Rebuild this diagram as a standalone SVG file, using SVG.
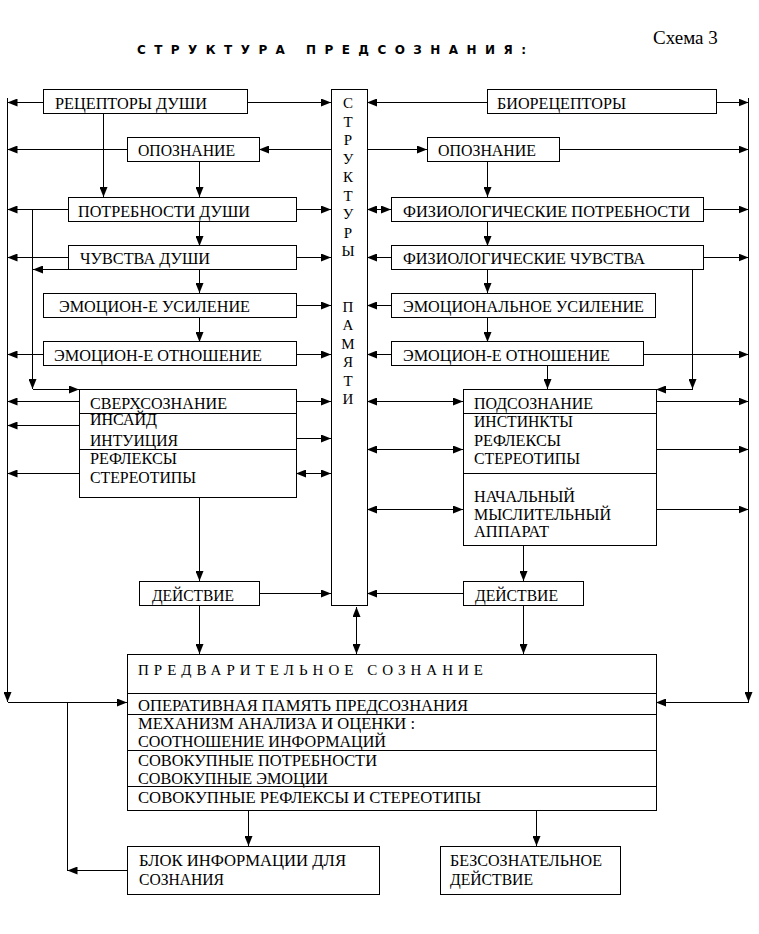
<svg xmlns="http://www.w3.org/2000/svg" width="759" height="934" viewBox="0 0 759 934">
<style>
rect{fill:#fff;stroke:#000;stroke-width:1;shape-rendering:crispEdges}
.d{stroke:#000;stroke-width:1;shape-rendering:crispEdges}
.c path{fill:none;stroke:#000;stroke-width:1;shape-rendering:crispEdges}
.a{marker-end:url(#ah)}
.b{marker-start:url(#ah);marker-end:url(#ah)}
</style>
<defs>
<marker id="ah" markerUnits="userSpaceOnUse" markerWidth="10" markerHeight="8" refX="10" refY="4" orient="auto-start-reverse" viewBox="0 0 10 8">
<path d="M0,0 L10,4 L0,8 z" fill="#000"/>
</marker>
</defs>
<rect x="0" y="0" width="759" height="934" style="stroke:none"/>
<text x="137" y="54" font-family="DejaVu Sans, Liberation Sans, Arial, sans-serif" font-size="12" font-weight="bold" textLength="389" lengthAdjust="spacing">СТРУКТУРА ПРЕДСОЗНАНИЯ:</text>
<text x="653" y="44" font-family="Liberation Serif, Times New Roman, serif" font-size="19">Схема 3</text>

<g class="c" id="connectors">
<path class="a" d="M7.5,98 V702"/>
<path class="a" d="M7.5,702.5 H127"/>
<path class="a" d="M748.5,98 V702"/>
<path class="a" d="M748.5,702.5 H656"/>
<path class="a" d="M43,102.5 H7.5"/>
<path class="a" d="M127,149.5 H7.5"/>
<path class="a" d="M68,209.5 H7.5"/>
<path class="a" d="M68,257.5 H7.5"/>
<path class="a" d="M43,354.5 H7.5"/>
<path class="a" d="M79,401.5 H7.5"/>
<path class="a" d="M79,425.5 H7.5"/>
<path class="a" d="M79,473.5 H7.5"/>
<path class="a" d="M247,102.5 H331"/>
<path class="a" d="M331,149.5 H259"/>
<path class="a" d="M296,209.5 H331"/>
<path class="a" d="M296,257.5 H331"/>
<path class="a" d="M296,305.5 H331"/>
<path class="a" d="M296,354.5 H331"/>
<path class="a" d="M296,401.5 H331"/>
<path class="a" d="M296,438.5 H331"/>
<path class="b" d="M296,473.5 H331"/>
<path class="a" d="M259,593.5 H331"/>
<path class="a" d="M487,102.5 H367"/>
<path class="a" d="M367,149.5 H427"/>
<path class="b" d="M367,209.5 H391"/>
<path class="a" d="M391,257.5 H367"/>
<path class="a" d="M391,305.5 H367"/>
<path class="a" d="M391,354.5 H367"/>
<path class="b" d="M367,401.5 H463"/>
<path class="b" d="M367,449.5 H463"/>
<path class="b" d="M367,509.5 H463"/>
<path class="a" d="M463,593.5 H367"/>
<path class="a" d="M716,102.5 H748.5"/>
<path class="a" d="M559,149.5 H748.5"/>
<path class="a" d="M703,209.5 H748.5"/>
<path class="a" d="M703,257.5 H748.5"/>
<path class="a" d="M643,354.5 H748.5"/>
<path class="a" d="M656,401.5 H748.5"/>
<path class="a" d="M656,449.5 H748.5"/>
<path class="a" d="M656,509.5 H748.5"/>
<path class="a" d="M103.5,113 V197"/>
<path class="a" d="M199.5,161 V197"/>
<path class="a" d="M199.5,221 V246"/>
<path class="a" d="M199.5,270 V293"/>
<path class="a" d="M199.5,317 V342"/>
<path class="a" d="M32.5,209.5 V389"/>
<path class="a" d="M32.5,389.5 H79"/>
<path class="a" d="M68,269.5 H33"/>
<path class="a" d="M199.5,497 V581"/>
<path class="a" d="M199.5,605 V654"/>
<path class="b" d="M356.5,607 V654"/>
<path class="a" d="M487.5,161 V197"/>
<path class="a" d="M487.5,221 V246"/>
<path class="a" d="M487.5,270 V293"/>
<path class="a" d="M487.5,317 V342"/>
<path class="a" d="M547.5,366 V389"/>
<path class="a" d="M692.5,270 V389"/>
<path class="a" d="M692.5,389.5 H656"/>
<path class="a" d="M523.5,545 V581"/>
<path class="a" d="M523.5,605 V654"/>
<path class="a" d="M248.5,810 V846"/>
<path class="a" d="M536.5,810 V846"/>
<path d="M67.5,702.5 V870.5"/>
<path class="a" d="M127,870.5 H67.5"/>
</g>

<g font-family="Liberation Serif, Times New Roman, serif" font-size="16" fill="#000">
<g id="column" font-size="15" text-anchor="middle">
<rect x="331.5" y="89.5" width="36" height="516"/>
<text x="348" y="108">С</text>
<text x="348" y="126.5">Т</text>
<text x="348" y="145">Р</text>
<text x="348" y="163.5">У</text>
<text x="348" y="182">К</text>
<text x="348" y="200.5">Т</text>
<text x="348" y="219">У</text>
<text x="348" y="237.5">Р</text>
<text x="348" y="256">Ы</text>
<text x="348" y="311.5">П</text>
<text x="348" y="330">А</text>
<text x="348" y="348.5">М</text>
<text x="348" y="367">Я</text>
<text x="348" y="385.5">Т</text>
<text x="348" y="404">И</text>
</g>

<g id="receptors-soul"><rect x="43.5" y="89.5" width="204" height="24"/><text x="55" y="109" textLength="152" lengthAdjust="spacingAndGlyphs">РЕЦЕПТОРЫ ДУШИ</text></g>
<g id="recognition-left"><rect x="127.5" y="137.5" width="132" height="24"/><text x="138" y="156" textLength="97" lengthAdjust="spacingAndGlyphs">ОПОЗНАНИЕ</text></g>
<g id="needs-soul"><rect x="68.5" y="197.5" width="228" height="24"/><text x="78" y="217" textLength="172" lengthAdjust="spacingAndGlyphs">ПОТРЕБНОСТИ ДУШИ</text></g>
<g id="feelings-soul"><rect x="68.5" y="245.5" width="228" height="24"/><text x="80" y="264" textLength="130" lengthAdjust="spacingAndGlyphs">ЧУВСТВА ДУШИ</text></g>
<g id="emo-gain-left"><rect x="43.5" y="293.5" width="253" height="24"/><text x="59" y="312" textLength="191" lengthAdjust="spacingAndGlyphs">ЭМОЦИОН-Е УСИЛЕНИЕ</text></g>
<g id="emo-attitude-left"><rect x="43.5" y="341.5" width="253" height="24"/><text x="54" y="361" textLength="208" lengthAdjust="spacingAndGlyphs">ЭМОЦИОН-Е ОТНОШЕНИЕ</text></g>
<g id="superconscious">
<rect x="79.5" y="389.5" width="217" height="108"/>
<line class="d" x1="79.5" y1="413.5" x2="296.5" y2="413.5"/>
<line class="d" x1="79.5" y1="449.5" x2="296.5" y2="449.5"/>
<text x="90" y="409" textLength="137" lengthAdjust="spacingAndGlyphs">СВЕРХСОЗНАНИЕ</text>
<text x="90" y="425" textLength="67" lengthAdjust="spacingAndGlyphs">ИНСАЙД</text>
<text x="90" y="446" textLength="88" lengthAdjust="spacingAndGlyphs">ИНТУИЦИЯ</text>
<text x="90" y="464" textLength="87" lengthAdjust="spacingAndGlyphs">РЕФЛЕКСЫ</text>
<text x="90" y="483" textLength="106" lengthAdjust="spacingAndGlyphs">СТЕРЕОТИПЫ</text>
</g>
<g id="action-left"><rect x="139.5" y="581.5" width="120" height="24"/><text x="152" y="601" textLength="82" lengthAdjust="spacingAndGlyphs">ДЕЙСТВИЕ</text></g>

<g id="bioreceptors"><rect x="487.5" y="89.5" width="229" height="24"/><text x="497" y="109" textLength="129" lengthAdjust="spacingAndGlyphs">БИОРЕЦЕПТОРЫ</text></g>
<g id="recognition-right"><rect x="427.5" y="137.5" width="132" height="24"/><text x="438" y="156" textLength="98" lengthAdjust="spacingAndGlyphs">ОПОЗНАНИЕ</text></g>
<g id="phys-needs"><rect x="391.5" y="197.5" width="312" height="24"/><text x="403" y="217" textLength="287" lengthAdjust="spacingAndGlyphs">ФИЗИОЛОГИЧЕСКИЕ ПОТРЕБНОСТИ</text></g>
<g id="phys-feelings"><rect x="391.5" y="245.5" width="312" height="24"/><text x="403" y="264" textLength="242" lengthAdjust="spacingAndGlyphs">ФИЗИОЛОГИЧЕСКИЕ ЧУВСТВА</text></g>
<g id="emo-gain-right"><rect x="391.5" y="293.5" width="264" height="24"/><text x="403" y="312" textLength="241" lengthAdjust="spacingAndGlyphs">ЭМОЦИОНАЛЬНОЕ УСИЛЕНИЕ</text></g>
<g id="emo-attitude-right"><rect x="391.5" y="341.5" width="252" height="24"/><text x="403" y="361" textLength="207" lengthAdjust="spacingAndGlyphs">ЭМОЦИОН-Е ОТНОШЕНИЕ</text></g>
<g id="subconscious">
<rect x="463.5" y="389.5" width="193" height="156"/>
<line class="d" x1="463.5" y1="413.5" x2="656.5" y2="413.5"/>
<line class="d" x1="463.5" y1="473.5" x2="656.5" y2="473.5"/>
<text x="474" y="409" textLength="119" lengthAdjust="spacingAndGlyphs">ПОДСОЗНАНИЕ</text>
<text x="474" y="427" textLength="99" lengthAdjust="spacingAndGlyphs">ИНСТИНКТЫ</text>
<text x="474" y="446" textLength="87" lengthAdjust="spacingAndGlyphs">РЕФЛЕКСЫ</text>
<text x="474" y="464" textLength="106" lengthAdjust="spacingAndGlyphs">СТЕРЕОТИПЫ</text>
<text x="474" y="502" textLength="101" lengthAdjust="spacingAndGlyphs">НАЧАЛЬНЫЙ</text>
<text x="474" y="520" textLength="137" lengthAdjust="spacingAndGlyphs">МЫСЛИТЕЛЬНЫЙ</text>
<text x="474" y="537" textLength="75" lengthAdjust="spacingAndGlyphs">АППАРАТ</text>
</g>
<g id="action-right"><rect x="463.5" y="581.5" width="120" height="24"/><text x="475" y="601" textLength="83" lengthAdjust="spacingAndGlyphs">ДЕЙСТВИЕ</text></g>

<g id="preconscious">
<rect x="127.5" y="654.5" width="529" height="156"/>
<line class="d" x1="127.5" y1="693.5" x2="656.5" y2="693.5"/>
<line class="d" x1="127.5" y1="714.5" x2="656.5" y2="714.5"/>
<line class="d" x1="127.5" y1="750.5" x2="656.5" y2="750.5"/>
<line class="d" x1="127.5" y1="786.5" x2="656.5" y2="786.5"/>
<text x="138" y="675" font-size="15" textLength="345" lengthAdjust="spacing">ПРЕДВАРИТЕЛЬНОЕ СОЗНАНИЕ</text>
<text x="138" y="711" textLength="330" lengthAdjust="spacingAndGlyphs">ОПЕРАТИВНАЯ ПАМЯТЬ ПРЕДСОЗНАНИЯ</text>
<text x="138" y="729" textLength="277" lengthAdjust="spacingAndGlyphs">МЕХАНИЗМ АНАЛИЗА И ОЦЕНКИ :</text>
<text x="138" y="747" textLength="248" lengthAdjust="spacingAndGlyphs">СООТНОШЕНИЕ ИНФОРМАЦИЙ</text>
<text x="138" y="766" textLength="239" lengthAdjust="spacingAndGlyphs">СОВОКУПНЫЕ ПОТРЕБНОСТИ</text>
<text x="138" y="784" textLength="190" lengthAdjust="spacingAndGlyphs">СОВОКУПНЫЕ ЭМОЦИИ</text>
<text x="138" y="803" textLength="343" lengthAdjust="spacingAndGlyphs">СОВОКУПНЫЕ РЕФЛЕКСЫ И СТЕРЕОТИПЫ</text>
</g>
<g id="info-block"><rect x="127.5" y="846.5" width="252" height="48"/>
<text x="139" y="866" textLength="207" lengthAdjust="spacingAndGlyphs">БЛОК ИНФОРМАЦИИ ДЛЯ</text>
<text x="139" y="885" textLength="85" lengthAdjust="spacingAndGlyphs">СОЗНАНИЯ</text></g>
<g id="unconscious-action"><rect x="440.5" y="846.5" width="180" height="48"/>
<text x="450" y="866" textLength="152" lengthAdjust="spacingAndGlyphs">БЕЗСОЗНАТЕЛЬНОЕ</text>
<text x="450" y="885" textLength="83" lengthAdjust="spacingAndGlyphs">ДЕЙСТВИЕ</text></g>
</g>
</svg>
